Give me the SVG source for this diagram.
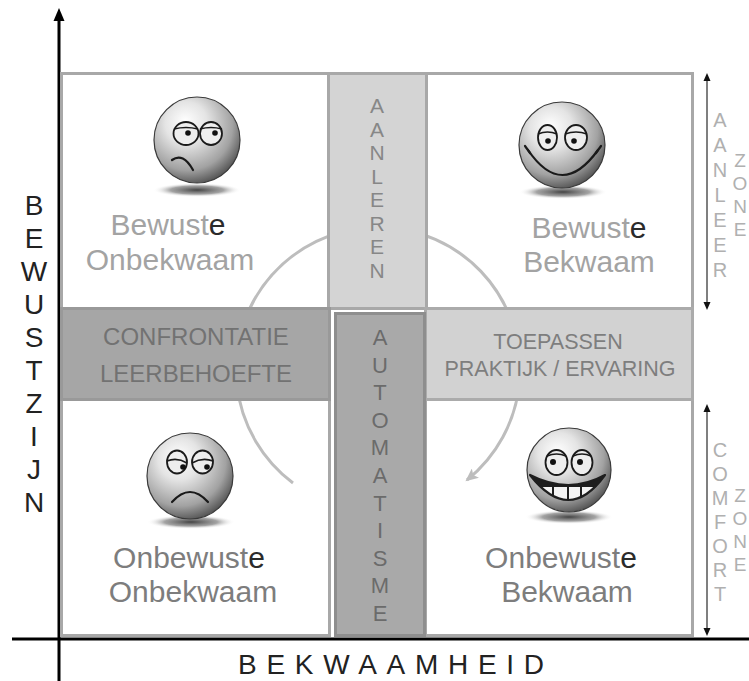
<svg xmlns="http://www.w3.org/2000/svg" width="749" height="681" viewBox="0 0 749 681">
<style>
  text { font-family: "Liberation Sans", Arial, Helvetica, sans-serif; }
  .cell { fill: #ffffff; stroke: #a8a8a8; stroke-width: 3; }
  .qt { font-size: 30px; text-anchor: middle; }
  .up { fill: #a3a3a3; }
  .low { fill: #7d7d7d; }
  .dark { fill: #2b2b2b; }
  .ball { fill: url(#ballGrad); stroke: #3a3a3a; stroke-width: 1.2; }
  .shadow { fill: url(#shadowGrad); }
  .eye { fill: #eeeeee; stroke: #1a1a1a; stroke-width: 1.8; }
  .lid { fill: none; stroke: #1a1a1a; stroke-width: 1.6; }
  .pupil { fill: #111111; }
  .mouth { fill: none; stroke: #1a1a1a; stroke-width: 2.2; stroke-linecap: round; }
  .vtext { text-anchor: middle; }
  .zone { font-size: 20px; fill: #b0b0b0; }
  .zone2 { font-size: 19px; fill: #b0b0b0; }
  .dbl { stroke: #555555; stroke-width: 1.5; }
  .tip { fill: #111111; }
</style>
<defs>
  <radialGradient id="ballGrad" cx="0.4" cy="0.34" r="0.7" fx="0.36" fy="0.28">
    <stop offset="0" stop-color="#ffffff"/>
    <stop offset="0.35" stop-color="#e4e4e4"/>
    <stop offset="0.75" stop-color="#a2a2a2"/>
    <stop offset="1" stop-color="#4e4e4e"/>
  </radialGradient>
  <radialGradient id="shadowGrad">
    <stop offset="0" stop-color="#3a3a3a" stop-opacity="0.95"/>
    <stop offset="0.6" stop-color="#666666" stop-opacity="0.6"/>
    <stop offset="1" stop-color="#ffffff" stop-opacity="0"/>
  </radialGradient>
  <marker id="arcArrow" markerUnits="userSpaceOnUse" markerWidth="14" markerHeight="12" refX="11" refY="6" orient="auto">
    <path d="M0,0 L13,6 L0,12 L3,6 Z" fill="#bdbdbd"/>
  </marker>
  <clipPath id="grinClip">
    <path d="M-39,5 Q0,55 36,5 Q0,25 -39,5 Z"/>
  </clipPath>
</defs>

<rect width="749" height="681" fill="#ffffff"/>

<!-- axes -->
<g id="axes">
  <line x1="59" y1="18" x2="59" y2="681" stroke="#000" stroke-width="3"/>
  <polygon points="59,8 53.5,21 64.5,21" fill="#000"/>
  <line x1="12" y1="639" x2="749" y2="639" stroke="#000" stroke-width="3"/>
  <text class="vtext" font-size="28" fill="#222">
    <tspan x="34" y="215">B</tspan><tspan x="34" y="248">E</tspan><tspan x="34" y="281">W</tspan><tspan x="34" y="314">U</tspan><tspan x="34" y="347">S</tspan><tspan x="34" y="380">T</tspan><tspan x="34" y="413">Z</tspan><tspan x="34" y="446">I</tspan><tspan x="34" y="479">J</tspan><tspan x="34" y="512">N</tspan>
  </text>
  <text x="238" y="674" font-size="28" fill="#222" letter-spacing="9.7">BEKWAAMHEID</text>
</g>

<!-- quadrant cells -->
<g id="q-bewuste-onbekwaam">
  <rect class="cell" x="61.5" y="73.5" width="267" height="235"/>
</g>
<g id="q-bewuste-bekwaam">
  <rect class="cell" x="426.5" y="73.5" width="266" height="235"/>
</g>
<g id="q-onbewuste-onbekwaam">
  <rect class="cell" x="61.5" y="399.5" width="268" height="236"/>
</g>
<g id="q-onbewuste-bekwaam">
  <rect class="cell" x="425.5" y="399.5" width="267" height="236"/>
</g>

<!-- connectors -->
<g id="connectors">
  <path d="M293,483 A142,142 0 1 1 467,480" fill="none" stroke="#bdbdbd" stroke-width="3" marker-end="url(#arcArrow)"/>
  <line class="dbl" x1="707" y1="79" x2="707" y2="304"/>
  <polygon class="tip" points="707,73 703.5,81 710.5,81"/>
  <polygon class="tip" points="707,310 703.5,302 710.5,302"/>
  <line class="dbl" x1="707" y1="410" x2="707" y2="630"/>
  <polygon class="tip" points="707,404 703.5,412 710.5,412"/>
  <polygon class="tip" points="707,636 703.5,628 710.5,628"/>
</g>

<!-- bars -->
<g id="bar-aanleren">
  <rect x="328.5" y="73.5" width="98" height="235" fill="#d4d4d4" stroke="#a8a8a8" stroke-width="3"/>
  <text class="vtext" font-size="21" fill="#878787">
    <tspan x="377" y="113">A</tspan><tspan x="377" y="136.5">A</tspan><tspan x="377" y="160">N</tspan><tspan x="377" y="183.5">L</tspan><tspan x="377" y="207">E</tspan><tspan x="377" y="230.5">R</tspan><tspan x="377" y="254">E</tspan><tspan x="377" y="277.5">N</tspan>
  </text>
</g>
<g id="bar-confrontatie">
  <rect x="61.5" y="308.5" width="268" height="91" fill="#a6a6a6" stroke="#999999" stroke-width="3"/>
  <text x="196" y="345" font-size="24" fill="#727272" text-anchor="middle">CONFRONTATIE</text>
  <text x="196" y="382" font-size="24" fill="#727272" text-anchor="middle">LEERBEHOEFTE</text>
</g>
<g id="bar-toepassen">
  <rect x="425.5" y="308.5" width="267" height="91" fill="#d2d2d2" stroke="#ababab" stroke-width="3"/>
  <text x="558" y="349" font-size="21.5" fill="#7e7e7e" text-anchor="middle">TOEPASSEN</text>
  <text x="560" y="376" font-size="21.5" fill="#7e7e7e" text-anchor="middle">PRAKTIJK / ERVARING</text>
</g>
<g id="bar-automatisme">
  <rect x="335.5" y="313.5" width="89" height="322" fill="#a9a9a9" stroke="#8e8e8e" stroke-width="3"/>
  <text class="vtext" font-size="22" fill="#6b6b6b">
    <tspan x="380" y="345">A</tspan><tspan x="380" y="372.6">U</tspan><tspan x="380" y="400.2">T</tspan><tspan x="380" y="427.8">O</tspan><tspan x="380" y="455.4">M</tspan><tspan x="380" y="483">A</tspan><tspan x="380" y="510.6">T</tspan><tspan x="380" y="538.2">I</tspan><tspan x="380" y="565.8">S</tspan><tspan x="380" y="593.4">M</tspan><tspan x="380" y="621">E</tspan>
  </text>
</g>

<!-- quadrant contents -->
<g id="q-bewuste-onbekwaam-content">
  <ellipse class="shadow" cx="197" cy="190" rx="44" ry="7"/>
  <g transform="translate(197,140)">
    <circle class="ball" r="43"/>
    <ellipse class="eye" cx="-11" cy="-6.5" rx="12.5" ry="11.5"/>
    <ellipse class="eye" cx="14" cy="-6.5" rx="11" ry="11.5"/>
    <path class="lid" d="M-23,-11 Q-11,-14 1,-11"/>
    <path class="lid" d="M3,-11 Q14,-14 25,-11"/>
    <circle class="pupil" cx="-9" cy="-7" r="2.8"/>
    <circle class="pupil" cx="18" cy="-7" r="2.8"/>
    <path class="mouth" d="M-25,20 Q-14,12 -4,30"/>
  </g>
  <text class="qt" x="168" y="235"><tspan class="up">Bewust</tspan><tspan class="dark">e</tspan></text>
  <text class="qt up" x="170" y="270">Onbekwaam</text>
</g>

<g id="q-bewuste-bekwaam-content">
  <ellipse class="shadow" cx="563" cy="192" rx="44" ry="7"/>
  <g transform="translate(562,145)">
    <circle class="ball" r="43"/>
    <ellipse class="eye" cx="-14.5" cy="-7.5" rx="9.5" ry="12.5"/>
    <ellipse class="eye" cx="14" cy="-7.5" rx="11" ry="12.5"/>
    <path class="lid" d="M-24,-11 Q-14.5,-15 -5,-11"/>
    <path class="lid" d="M3,-11 Q14,-15 25,-11"/>
    <circle class="pupil" cx="-14" cy="-4" r="2.8"/>
    <circle class="pupil" cx="12" cy="-4" r="2.8"/>
    <path class="mouth" d="M-34,5 Q0,55 36,5"/>
    <path class="mouth" d="M-37,1 L-32,8" stroke-width="1.6"/>
    <path class="mouth" d="M39,1 L34,8" stroke-width="1.6"/>
  </g>
  <text class="qt" x="589" y="238"><tspan class="up">Bewust</tspan><tspan class="dark">e</tspan></text>
  <text class="qt up" x="589" y="272">Bekwaam</text>
</g>

<g id="q-onbewuste-onbekwaam-content">
  <ellipse class="shadow" cx="191" cy="522" rx="44" ry="7"/>
  <g transform="translate(190,476)">
    <circle class="ball" r="43"/>
    <ellipse class="eye" cx="-13" cy="-14" rx="10" ry="11.5"/>
    <ellipse class="eye" cx="12.5" cy="-14" rx="10.5" ry="11.5"/>
    <path class="lid" d="M-23,-15 Q-13,-19 -3,-13"/>
    <path class="lid" d="M2,-13 Q12.5,-19 23,-15"/>
    <circle class="pupil" cx="-7" cy="-9" r="2.8"/>
    <circle class="pupil" cx="17" cy="-9" r="2.8"/>
    <path class="mouth" d="M-18,26 Q0,6 18,26"/>
  </g>
  <text class="qt" x="189" y="568"><tspan class="low">Onbewust</tspan><tspan class="dark">e</tspan></text>
  <text class="qt low" x="193" y="602">Onbekwaam</text>
</g>

<g id="q-onbewuste-bekwaam-content">
  <ellipse class="shadow" cx="569" cy="517" rx="44" ry="7"/>
  <g transform="translate(569,470)">
    <circle class="ball" r="42"/>
    <ellipse class="eye" cx="-12.5" cy="-7.5" rx="11" ry="12.5"/>
    <ellipse class="eye" cx="13" cy="-7.5" rx="10.5" ry="12.5"/>
    <path class="lid" d="M-22,-14 Q-12.5,-18 -3,-14"/>
    <path class="lid" d="M4,-14 Q13,-18 22,-14"/>
    <circle class="pupil" cx="-16" cy="-8" r="3"/>
    <circle class="pupil" cx="11" cy="-8" r="3"/>
    <path d="M-39,5 Q0,55 36,5 Q0,25 -39,5 Z" fill="#1e1e1e"/>
    <g clip-path="url(#grinClip)">
      <rect x="-40" y="17" width="80" height="20" fill="#f4f4f4"/>
      <line x1="-16" y1="16" x2="-16" y2="36" stroke="#1e1e1e" stroke-width="2"/>
      <line x1="-1" y1="16" x2="-1" y2="36" stroke="#1e1e1e" stroke-width="2"/>
      <line x1="12" y1="16" x2="12" y2="36" stroke="#1e1e1e" stroke-width="2"/>
    </g>
    <path d="M-39,5 Q0,55 36,5 Q0,25 -39,5 Z" fill="none" stroke="#1e1e1e" stroke-width="2.2" stroke-linejoin="round"/>
  </g>
  <text class="qt" x="561" y="568"><tspan class="low">Onbewust</tspan><tspan class="dark">e</tspan></text>
  <text class="qt low" x="567" y="602">Bekwaam</text>
</g>

<!-- zone labels -->
<g id="label-aanleer-zone">
  <text class="vtext zone">
    <tspan x="720" y="127">A</tspan><tspan x="720" y="152">A</tspan><tspan x="720" y="177">N</tspan><tspan x="720" y="202">L</tspan><tspan x="720" y="227">E</tspan><tspan x="720" y="252">E</tspan><tspan x="720" y="277">R</tspan>
  </text>
  <text class="vtext zone2">
    <tspan x="740" y="167">Z</tspan><tspan x="740" y="190">O</tspan><tspan x="740" y="213">N</tspan><tspan x="740" y="236">E</tspan>
  </text>
</g>
<g id="label-comfort-zone">
  <text class="vtext zone">
    <tspan x="720" y="457">C</tspan><tspan x="720" y="481">O</tspan><tspan x="720" y="505">M</tspan><tspan x="720" y="529">F</tspan><tspan x="720" y="553">O</tspan><tspan x="720" y="577">R</tspan><tspan x="720" y="601">T</tspan>
  </text>
  <text class="vtext zone2">
    <tspan x="740" y="502">Z</tspan><tspan x="740" y="525">O</tspan><tspan x="740" y="548">N</tspan><tspan x="740" y="571">E</tspan>
  </text>
</g>
</svg>
